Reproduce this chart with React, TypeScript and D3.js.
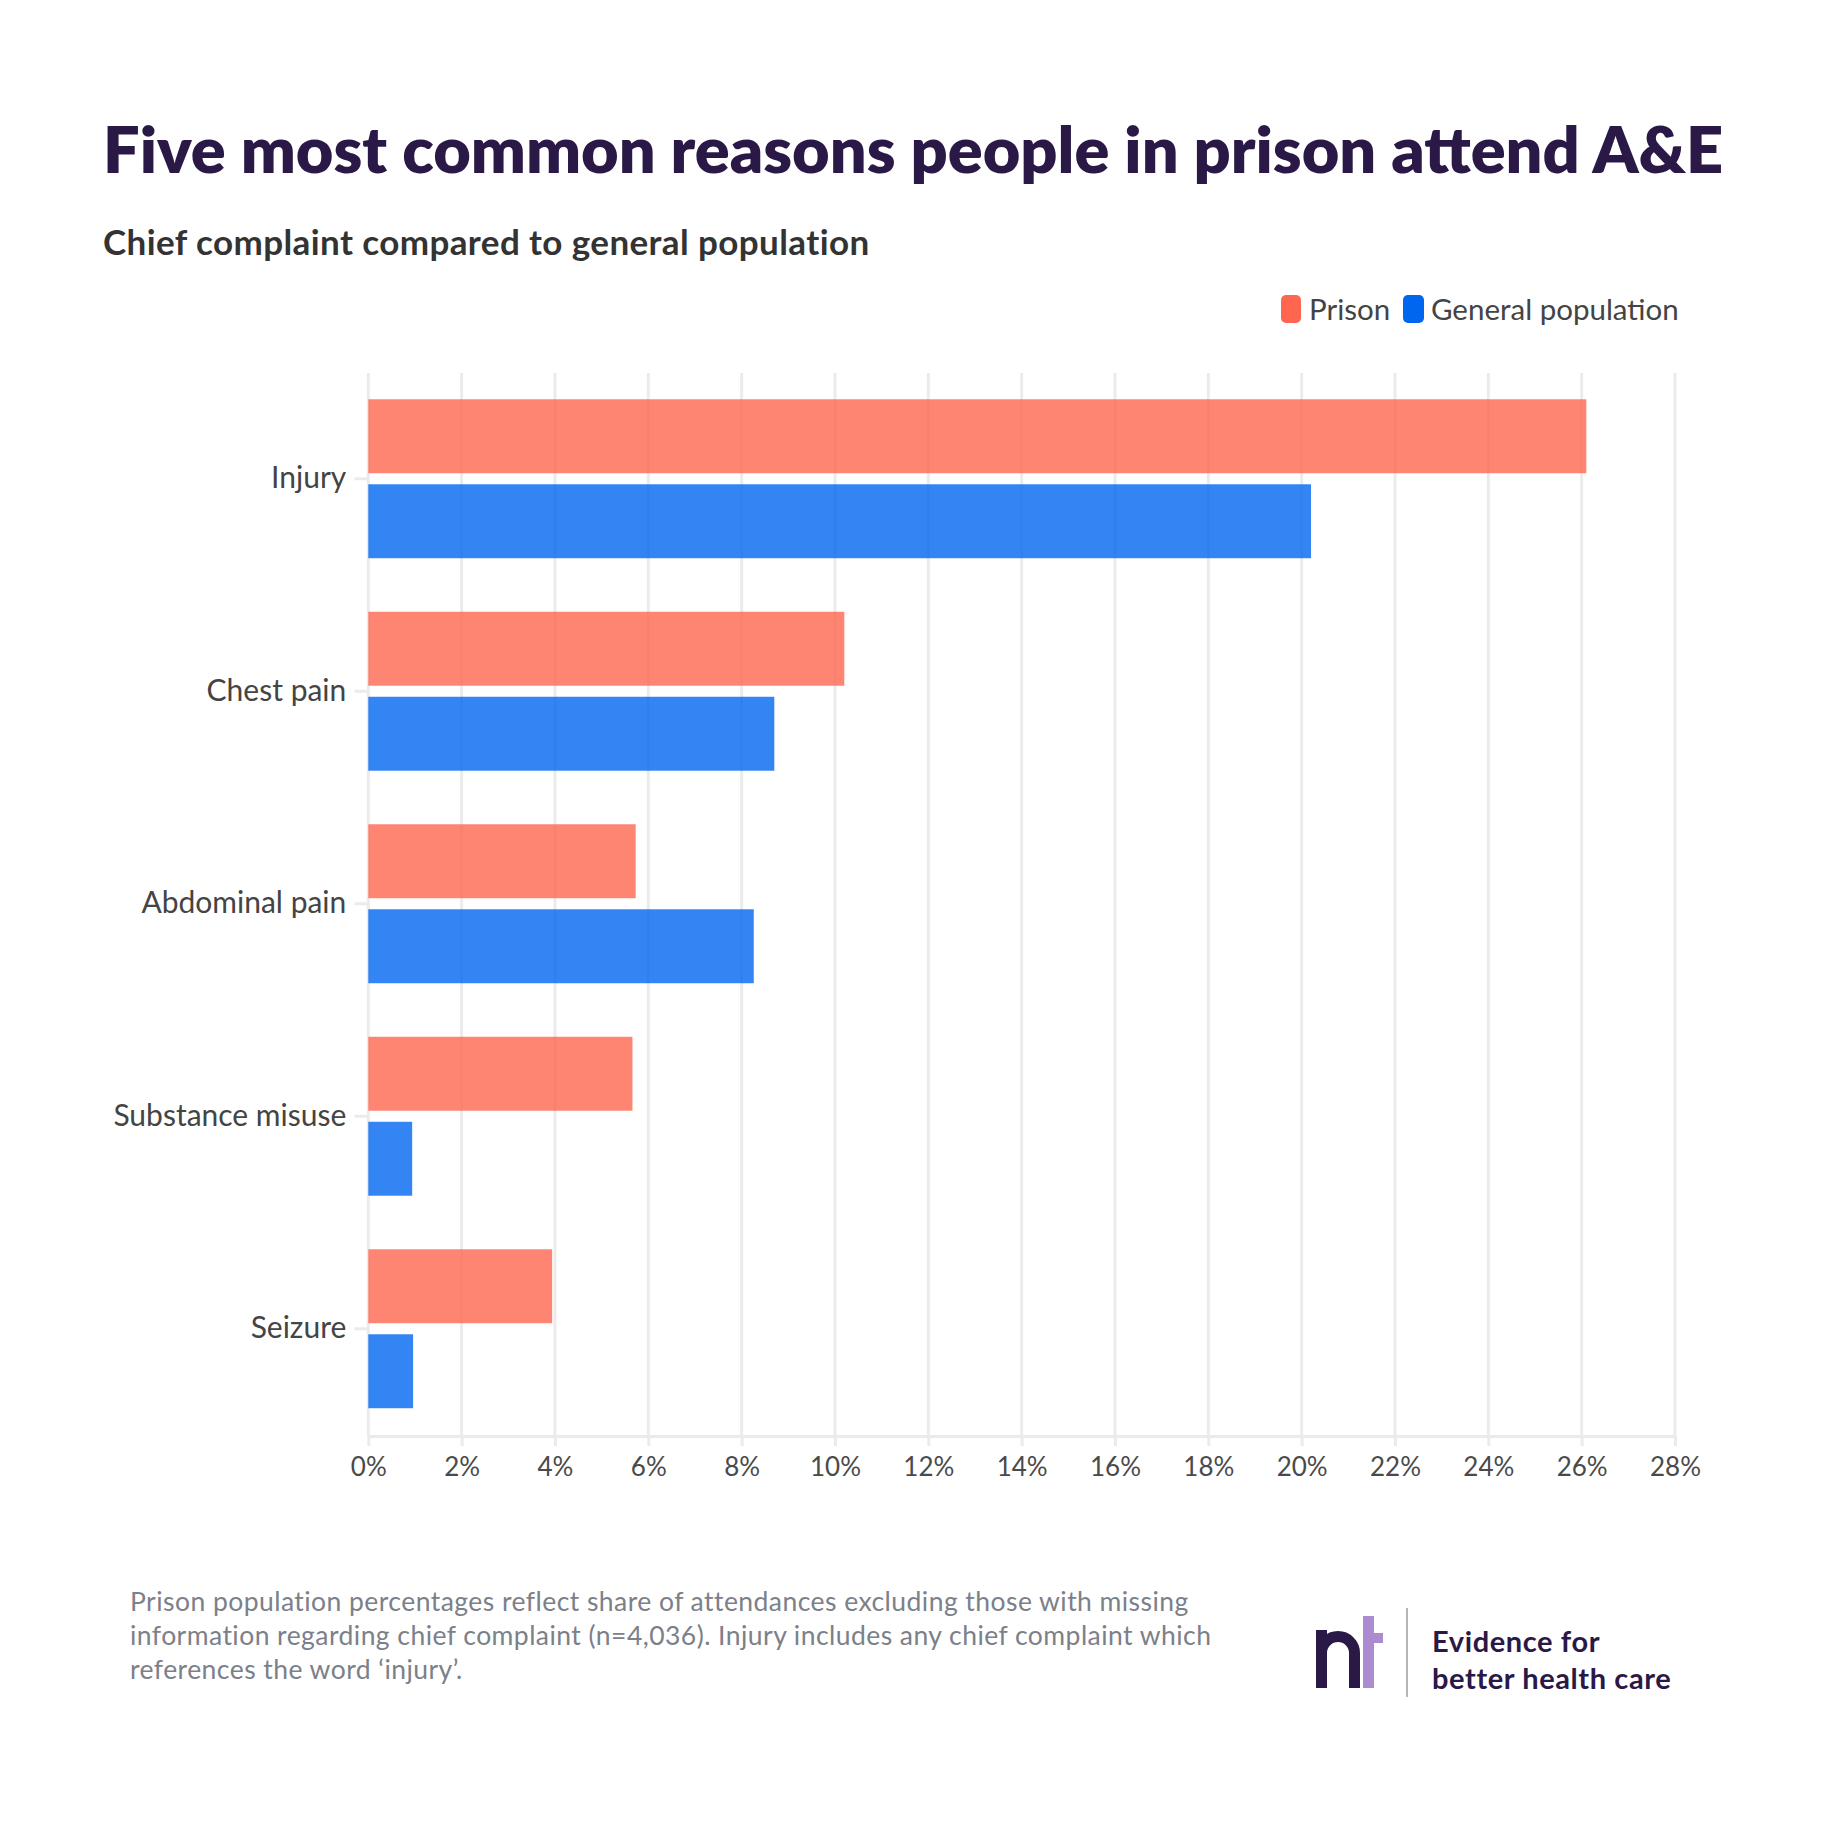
import { useEffect, useMemo, useRef } from 'react';
import * as d3 from 'd3';

const WIDTH = 1841;
const HEIGHT = 1841;
const PLOT = { left: 368.3, right: 1675, top: 372.5, bottom: 1435 };
const FONT = 'Lato, "Noto Sans", sans-serif';

// data
const categories = ['Injury', 'Chest pain', 'Abdominal pain', 'Substance misuse', 'Seizure'];
const series = ['Prison', 'General population'];
const prisonValues = [26.1, 10.2, 5.73, 5.66, 3.94];
const generalValues = [20.2, 8.7, 8.26, 0.94, 0.96];
const xTicks = [0, 2, 4, 6, 8, 10, 12, 14, 16, 18, 20, 22, 24, 26, 28];
const seriesColors = ['#ff6650', '#0066f0'];

const footnoteLines = [
    'Prison population percentages reflect share of attendances excluding those with missing',
    'information regarding chief complaint (n=4,036). Injury includes any chief complaint which',
    'references the word \u2018injury\u2019.',
];

const GRID = '#ebebeb';

export default function App() {
    const xAxisRef = useRef<SVGGElement>(null);
    const yAxisRef = useRef<SVGGElement>(null);

    const xScale = useMemo(() => d3.scaleLinear().domain([0, 28]).range([PLOT.left, PLOT.right]), []);
    const yScale = useMemo(
        () => d3.scaleBand().domain(categories).range([PLOT.top, PLOT.bottom]).paddingInner(0.252).paddingOuter(0.126),
        []
    );
    const subScale = useMemo(
        () => d3.scaleBand().domain(series).range([0, yScale.bandwidth()]).paddingInner(0.13),
        [yScale]
    );

    const rows = categories.map((c, i) => ({ category: c, values: [prisonValues[i], generalValues[i]] }));

    useEffect(() => {
        const gx = d3.select(xAxisRef.current);
        gx.selectAll('*').remove();
        gx.call(
            d3
                .axisBottom(xScale)
                .tickValues(xTicks)
                .tickSize(10)
                .tickSizeOuter(0)
                .tickPadding(12)
                .tickFormat((d) => d + '%')
        );
        gx.select('.domain').attr('stroke', GRID).attr('stroke-width', 3);
        gx.selectAll('.tick line').attr('stroke', GRID).attr('stroke-width', 3);
        gx.selectAll('.tick text').attr('fill', '#4a4a4a').attr('font-size', 26).attr('font-family', FONT);

        const gy = d3.select(yAxisRef.current);
        gy.selectAll('*').remove();
        gy.call(d3.axisLeft(yScale).tickSize(14).tickPadding(8).tickSizeOuter(0));
        gy.select('.domain').remove();
        gy.selectAll('.tick line').attr('stroke', GRID).attr('stroke-width', 3);
        gy.selectAll('.tick text').attr('fill', '#444').attr('font-size', 30).attr('font-family', FONT);
    }, [xScale, yScale]);

    return (
        <svg
            width={WIDTH}
            height={HEIGHT}
            style={{ position: 'absolute', left: 0, top: 0, background: '#fff' }}
            fontFamily={FONT}
        >
            <rect width={WIDTH} height={HEIGHT} fill="#fff" />
            <text x={103} y={173} fontSize={64.8} fontWeight={800} fill="#2a1846">
                Five most common reasons people in prison attend A&amp;E
            </text>
            <text x={103} y={255} fontSize={35} fontWeight={700} fill="#333" letterSpacing={0.4}>
                Chief complaint compared to general population
            </text>

            {/* legend */}
            <g>
                <rect x={1281} y={295} width={20} height={28} rx={5} fill={seriesColors[0]} />
                <text x={1309} y={320} fontSize={29.5} fill="#444">{series[0]}</text>
                <rect x={1403} y={295} width={21} height={28} rx={5} fill={seriesColors[1]} />
                <text x={1431} y={320} fontSize={29.5} fill="#444">{series[1]}</text>
            </g>

            {/* grid */}
            <g>
                {xTicks.map((t) => (
                    <line key={t} x1={xScale(t)} x2={xScale(t)} y1={373} y2={PLOT.bottom + 1} stroke={GRID} strokeWidth={3} />
                ))}
            </g>

            {/* bars */}
            <g>
                {rows.map((r) => (
                    <g key={r.category} transform={`translate(0,${yScale(r.category)})`}>
                        {r.values.map((v, j) => (
                            <rect
                                key={series[j]}
                                x={xScale(0)}
                                y={subScale(series[j])}
                                width={xScale(v) - xScale(0)}
                                height={subScale.bandwidth()}
                                fill={seriesColors[j]}
                                fillOpacity={0.8}
                            />
                        ))}
                    </g>
                ))}
            </g>

            <g ref={xAxisRef} transform={`translate(0,${PLOT.bottom + 1})`} />
            <g ref={yAxisRef} transform={`translate(${PLOT.left},0)`} />

            {/* footnote */}
            <g fill="#7b8089" fontSize={26.5} letterSpacing={0.45}>
                {footnoteLines.map((l, i) => (
                    <text key={i} x={130} y={1611 + i * 34}>
                        {l}
                    </text>
                ))}
            </g>

            {/* logo */}
            <g>
                <path
                    d="M1321.5 1688 V1630 M1321.5 1653 A16.5 16.5 0 0 1 1354.5 1653 V1688"
                    fill="none"
                    stroke="#2a1846"
                    strokeWidth={11}
                />
                <rect x={1363} y={1616} width={11} height={72} fill="#ad8bd0" />
                <rect x={1374} y={1633} width={9} height={10} fill="#ad8bd0" />
                <line x1={1407} x2={1407} y1={1608} y2={1697} stroke="#b5b5b5" strokeWidth={2} />
                <text x={1432} y={1652} fontSize={29} fontWeight={700} fill="#2a1846" letterSpacing={0.6}>
                    Evidence for
                </text>
                <text x={1432} y={1689} fontSize={29} fontWeight={700} fill="#2a1846" letterSpacing={0.6}>
                    better health care
                </text>
            </g>
        </svg>
    );
}
